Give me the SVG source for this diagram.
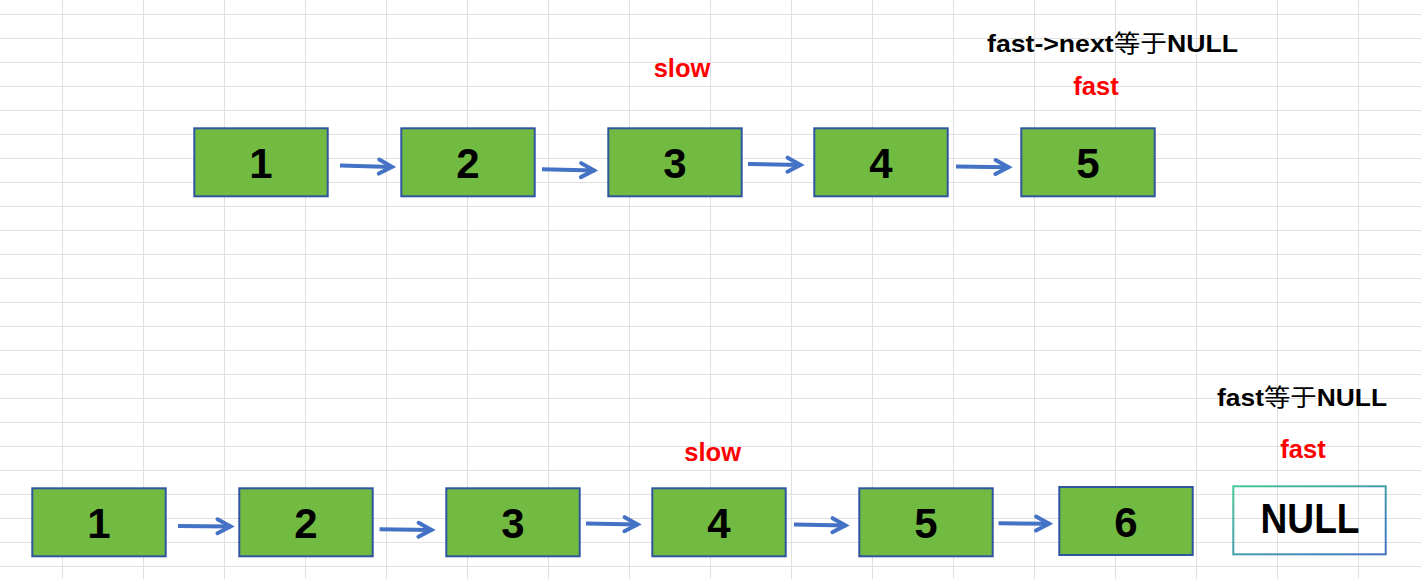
<svg xmlns="http://www.w3.org/2000/svg" width="1421" height="579" viewBox="0 0 1421 579">
  <style>
    .grid { stroke: #e0e0e0; stroke-width: 1; fill: none; }
    .node rect { fill: #72BB42; stroke: #2F55A0; stroke-width: 2; }
    .num { font-family: "Liberation Sans", Arial, sans-serif; font-weight: bold; font-size: 42px; fill: #000; text-anchor: middle; }
    .ptr { font-family: "Liberation Sans", Arial, sans-serif; font-weight: bold; font-size: 25.5px; fill: #FF0000; text-anchor: middle; }
    .note { font-family: "Liberation Sans", Arial, "Noto Sans CJK SC", sans-serif; font-weight: bold; font-size: 24px; fill: #000; text-anchor: middle; }
    .cjk { font-family: "Noto Sans CJK SC", sans-serif; font-weight: normal; }
    .edge { fill: none; stroke: #4472C4; stroke-width: 4; marker-end: url(#ah); }
  </style>
  <defs>
    <marker id="ah" markerUnits="userSpaceOnUse" markerWidth="40" markerHeight="40" viewBox="-20 -20 40 40" refX="0" refY="0" orient="auto" overflow="visible">
      <path d="M-13.5,-7 L-0.5,0 L-13.5,7" fill="none" stroke="#4472C4" stroke-width="4" stroke-linecap="round" stroke-linejoin="miter"/>
    </marker>
    <linearGradient id="nullStroke" x1="0" y1="0" x2="1" y2="1">
      <stop offset="0" stop-color="#47C796"/>
      <stop offset="1" stop-color="#4472C4"/>
    </linearGradient>
  </defs>
  <rect x="0" y="0" width="1421" height="579" fill="#ffffff"/>
  <path class="grid" d="M62.5 0V579M143.5 0V579M224.5 0V579M305.5 0V579M386.5 0V579M467.5 0V579M548.5 0V579M629.5 0V579M710.5 0V579M791.5 0V579M872.5 0V579M953.5 0V579M1034.5 0V579M1115.5 0V579M1196.5 0V579M1277.5 0V579M1358.5 0V579M0 14.5H1421M0 38.5H1421M0 62.5H1421M0 86.5H1421M0 110.5H1421M0 134.5H1421M0 158.5H1421M0 182.5H1421M0 206.5H1421M0 230.5H1421M0 254.5H1421M0 278.5H1421M0 302.5H1421M0 326.5H1421M0 350.5H1421M0 374.5H1421M0 398.5H1421M0 422.5H1421M0 446.5H1421M0 470.5H1421M0 494.5H1421M0 518.5H1421M0 542.5H1421M0 566.5H1421"/>

  <!-- labels -->
  <g id="labels">
    <text class="note" x="1112.5" y="52" textLength="251" lengthAdjust="spacingAndGlyphs">fast-&gt;next<tspan class="cjk">等于</tspan>NULL</text>
    <text class="ptr" x="682" y="77">slow</text>
    <text class="ptr" x="1096" y="95">fast</text>
    <text class="note" x="1302" y="406" textLength="170" lengthAdjust="spacingAndGlyphs">fast<tspan class="cjk">等于</tspan>NULL</text>
    <text class="ptr" x="1303" y="458">fast</text>
    <text class="ptr" x="712.7" y="461">slow</text>
  </g>

  <!-- top list -->
  <g id="t1" class="node"><rect x="194.3" y="128.3" width="133.4" height="68"/><text class="num" x="261" y="178">1</text></g>
  <g id="t2" class="node"><rect x="401.3" y="128.3" width="133.4" height="68"/><text class="num" x="468" y="178">2</text></g>
  <g id="t3" class="node"><rect x="608.3" y="128.3" width="133.4" height="68"/><text class="num" x="675" y="178">3</text></g>
  <g id="t4" class="node"><rect x="814.3" y="128.3" width="133.4" height="68"/><text class="num" x="881" y="178">4</text></g>
  <g id="t5" class="node"><rect x="1021.3" y="128.3" width="133.4" height="68"/><text class="num" x="1088" y="178">5</text></g>

  <!-- bottom list -->
  <g id="b1" class="node"><rect x="32.3" y="488.3" width="133.4" height="68"/><text class="num" x="99" y="538">1</text></g>
  <g id="b2" class="node"><rect x="239.3" y="488.3" width="133.4" height="68"/><text class="num" x="306" y="538">2</text></g>
  <g id="b3" class="node"><rect x="446.3" y="488.3" width="133.4" height="68"/><text class="num" x="513" y="538">3</text></g>
  <g id="b4" class="node"><rect x="652.3" y="488.3" width="133.4" height="68"/><text class="num" x="719" y="538">4</text></g>
  <g id="b5" class="node"><rect x="859.3" y="488.3" width="133.4" height="68"/><text class="num" x="926" y="538">5</text></g>
  <g id="b6" class="node"><rect x="1059.3" y="487" width="133.4" height="68"/><text class="num" x="1126" y="537">6</text></g>
  <g id="bnull">
    <rect x="1233.3" y="486.3" width="152.4" height="68" fill="none" stroke="url(#nullStroke)" stroke-width="2"/>
    <text class="num" x="1310" y="533" font-size="40" textLength="99" lengthAdjust="spacingAndGlyphs">NULL</text>
  </g>

  <!-- connectors -->
  <g id="connectors">
    <path class="edge" d="M340 165.5L392.5 166.9"/>
    <path class="edge" d="M542 169.3L594.5 170.4"/>
    <path class="edge" d="M748 164L801 164.9"/>
    <path class="edge" d="M956 166.5L1009 167.2"/>
    <path class="edge" d="M178 526L231 526.4"/>
    <path class="edge" d="M379.5 529.3L432 529.9"/>
    <path class="edge" d="M586 523.5L638 524.4"/>
    <path class="edge" d="M794 524.5L846 525.4"/>
    <path class="edge" d="M998.5 523.3L1049.5 523.7"/>
  </g>
</svg>
